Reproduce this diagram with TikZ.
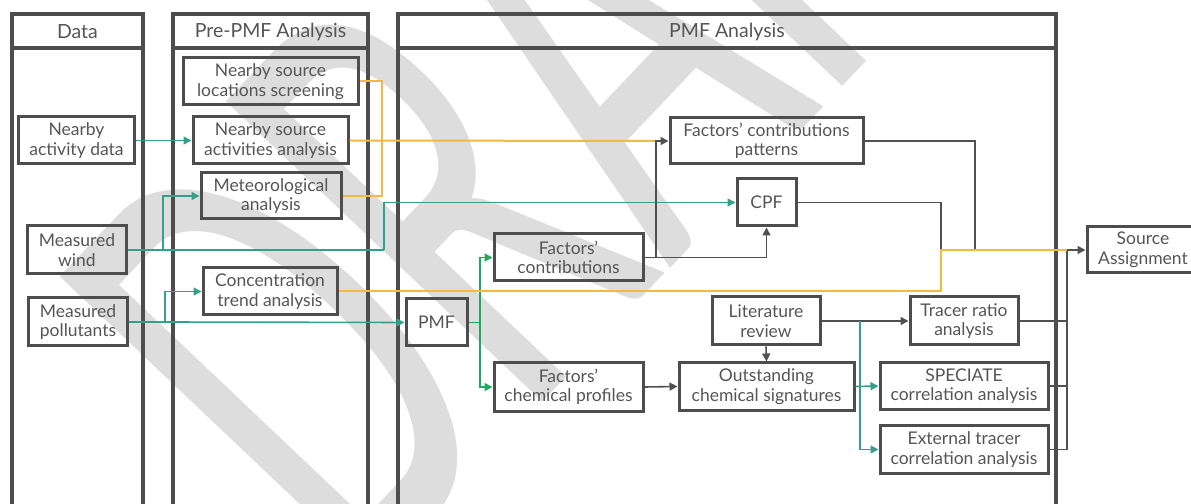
\documentclass[tikz,border=0pt]{standalone}
\usepackage{fontspec}
\setmainfont{Lato}
\newfontfamily\wmfont{Carlito}
\usetikzlibrary{arrows.meta,calc}
\definecolor{tealc}{RGB}{52,160,140}
\definecolor{greenc}{RGB}{30,170,90}
\definecolor{orangec}{RGB}{243,185,64}
\definecolor{darkc}{RGB}{80,80,80}
\definecolor{boxc}{RGB}{77,77,77}
\definecolor{txtc}{RGB}{85,85,85}
\definecolor{wmc}{RGB}{221,221,221}
\tikzset{
  box/.style={draw=boxc, line width=3bp, inner sep=0pt, align=center, text=txtc,
    font=\fontsize{17.5bp}{19.5bp}\selectfont},
  panel/.style={draw=boxc, line width=3.2bp},
  hdr/.style={text=txtc, font=\fontsize{19.5bp}{22bp}\selectfont, inner sep=0pt},
  tealarrow/.style={draw=tealc, line width=1.6bp, -{Triangle[length=8bp,width=8bp]}},
  greenarrow/.style={draw=greenc, line width=1.6bp, -{Triangle[length=8bp,width=8bp]}},
  darkarrow/.style={draw=darkc, line width=1.6bp, -{Triangle[length=8bp,width=8bp]}},
  darkline/.style={draw=darkc, line width=1.6bp},
  tealline/.style={draw=tealc, line width=1.6bp},
  orangeline/.style={draw=orangec, line width=2bp},
}
\begin{document}
\begin{tikzpicture}[x=1bp,y=-1bp]
\useasboundingbox (0,0) rectangle (1191,504);
% watermark
\begin{scope}
  \clip (0,0) rectangle (1191,504);
  \node[anchor=base west, rotate=46.5, yscale=1.744, inner sep=0pt, text=wmc,
    font=\wmfont\fontsize{390bp}{390bp}\selectfont] (wm) at (358,597) {DRAFT};
\end{scope}
% panels
\draw[panel] (12,14) rectangle (143,540);
\draw[panel] (12,48) -- (143,48);
\draw[panel] (173,14) rectangle (368,540);
\draw[panel] (173,48) -- (368,48);
\draw[panel] (398,14) rectangle (1056,540);
\draw[panel] (398,48) -- (1056,48);
\node[hdr] (hdata) at (77.5,31.5) {Data};
\node[hdr] (hpre) at (270.5,31.5) {Pre-PMF Analysis};
\node[hdr] (hpmf) at (727,31.5) {PMF Analysis};
% boxes
\node[box, minimum width=115bp, minimum height=47bp] (nad) at (76.5,140.5) {Nearby\\activity data};
\node[box, minimum width=98bp, minimum height=48bp] (wind) at (77,250) {Measured\\wind};
\node[box, minimum width=98bp, minimum height=48bp] (poll) at (78,322) {Measured\\pollutants};
\node[box, minimum width=175bp, minimum height=47bp] (scr) at (270.5,81.5) {Nearby source\\locations screening};
\node[box, minimum width=155bp, minimum height=47bp] (act) at (270.5,140.5) {Nearby source\\activities analysis};
\node[box, minimum width=140bp, minimum height=46bp] (met) at (271,196) {Meteorological\\analysis};
\node[box, minimum width=134bp, minimum height=47bp] (conc) at (270,291.5) {Concentration\\trend analysis};
\node[box, minimum width=61bp, minimum height=47bp] (pmf) at (436.5,322.5) {PMF};
\node[box, minimum width=149bp, minimum height=47bp] (fc) at (568.5,257.5) {Factors’\\contributions};
\node[box, minimum width=149bp, minimum height=48bp] (fcp) at (568.5,387) {Factors’\\chemical profiles};
\node[box, minimum width=193bp, minimum height=46bp] (pat) at (766.5,141) {Factors’ contributions\\patterns};
\node[box, minimum width=59bp, minimum height=47bp] (cpf) at (766.5,202.5) {CPF};
\node[box, minimum width=108bp, minimum height=48bp] (lit) at (766,321) {Literature\\review};
\node[box, minimum width=175bp, minimum height=47bp] (out) at (766.5,386.5) {Outstanding\\chemical signatures};
\node[box, minimum width=108bp, minimum height=48bp] (tr) at (964,321) {Tracer ratio\\analysis};
\node[box, minimum width=168bp, minimum height=46bp] (spe) at (964,386) {SPECIATE\\correlation analysis};
\node[box, minimum width=168bp, minimum height=47bp] (ext) at (964,449.5) {External tracer\\correlation analysis};
\node[box, minimum width=112bp, minimum height=46bp] (src) at (1143,250) {Source\\Assignment};
% junction coordinates
\coordinate (j1) at (163,250);
\coordinate (j2) at (384,250);
\coordinate (j3) at (165,322);
\coordinate (j4) at (480,322.5);
\coordinate (j5) at (860,321);
\coordinate (j6) at (656,257.5);
\coordinate (j6t) at (656,141);
\coordinate (j7) at (382,81.5);
\coordinate (k1) at (975,250);
\coordinate (k2) at (941,250);
\coordinate (k3) at (1067,250);
% teal connectors
\draw[tealarrow] (nad.east) -- (act.west);
\draw[tealline] (wind.east) -- (j1);
\draw[tealarrow] (j1) |- (met.west);
\draw[tealline] (j1) -- (j2);
\draw[tealarrow] (j2) |- (cpf.west);
\draw[tealline] (poll.east) -- (j3);
\draw[tealarrow] (j3) |- (conc.west);
\draw[tealarrow] (j3) -- (pmf.west);
% green
\draw[draw=greenc, line width=1.6bp] (pmf.east) -- (j4);
\draw[greenarrow] (j4) |- (fc.west);
\draw[greenarrow] (j4) |- (fcp.west);
% dark connectors
\draw[darkarrow] (fcp.east) -- (out.west);
\draw[darkarrow] (lit.south) -- (out.north);
\draw[darkarrow] (lit.east) -- (tr.west);
\draw[darkarrow] (fc.east) -| (cpf.south);
\draw[darkline] (pat.east) -| (k1);
\draw[darkline] (cpf.east) -| (k2);
\draw[darkline] (tr.east) -| (k3);
\draw[darkline] (spe.east) -| (k3);
\draw[darkline] (ext.east) -| (k3);
% orange
\draw[orangeline] (scr.east) -- (j7) |- (met.east);
\draw[orangeline] (act.east) -- (j6t);
\draw[orangeline] (conc.east) -| (k2) -- (k3);
\draw[darkarrow] (j6) |- (pat.west);
\draw[darkarrow] (k3) -- (src.west);
% teal from literature / outstanding
\draw[tealarrow] (j5) |- (ext.west);
\draw[tealarrow] (out.east) -- (spe.west);
\end{tikzpicture}
\end{document}
